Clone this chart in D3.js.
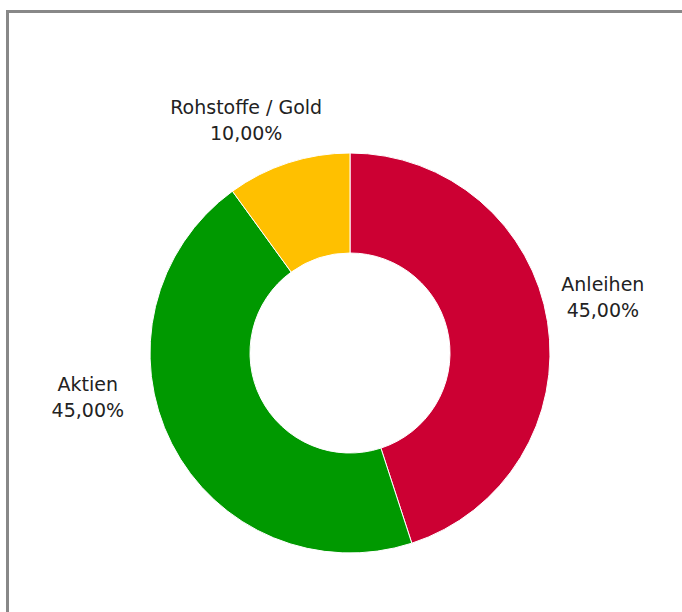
<html>
  <head>
    <script src="https://cdnjs.cloudflare.com/ajax/libs/d3/7.8.5/d3.min.js"></script>
    <style>
    body {
      margin: 0;
      background: white;
    }
    text {
      font-family: "DejaVu Sans", sans-serif;
      font-size: 19px;
      fill: #222;
    }
    </style>
  </head>
  <body>
    <svg width="682" height="612" id="donut"></svg>

    <script>
    var categories = ['Anleihen', 'Aktien', 'Rohstoffe / Gold'];
    var shares = [45, 45, 10];
    var colors = ['#CC0033', '#009900', '#FFC000'];

    var svg = d3.select('#donut');

    // grey frame, cut off at right and bottom edge
    svg.append('rect')
      .attr('x', 7.5)
      .attr('y', 11.5)
      .attr('width', 800)
      .attr('height', 800)
      .style('fill', 'none')
      .style('stroke', '#888')
      .style('stroke-width', 3);

    var cx = 350, cy = 353;
    var outer = 200, inner = 100;

    var pie = d3.pie().sort(null).value(function(d) { return d; });
    var arcs = pie(shares);
    var arc = d3.arc().innerRadius(inner).outerRadius(outer);
    var labelArc = d3.arc().innerRadius(255).outerRadius(255);

    var g = svg.append('g').attr('transform', 'translate(' + cx + ' ' + cy + ')');

    g.selectAll('path')
      .data(arcs)
      .enter()
      .append('path')
      .attr('d', arc)
      .style('fill', function(d, i) { return colors[i]; })
      .style('stroke', 'white')
      .style('stroke-width', 1);

    // the labels sit a bit off the slice middle, as in the original layout
    var nudge = [[1, -22], [-35, -78], [-25, 4]];

    var fmt = function(v) { return d3.format('.2f')(v).replace('.', ',') + '%'; };

    var labels = g.selectAll('text.label')
      .data(arcs)
      .enter()
      .append('text')
      .attr('class', 'label')
      .attr('text-anchor', 'middle')
      .attr('transform', function(d, i) {
        var c = labelArc.centroid(d);
        return 'translate(' + (c[0] + nudge[i][0]) + ' ' + (c[1] + nudge[i][1]) + ')';
      });

    labels.append('tspan')
      .attr('x', 0)
      .attr('y', 0)
      .text(function(d, i) { return categories[i]; });
    labels.append('tspan')
      .attr('x', 0)
      .attr('y', 26)
      .text(function(d) { return fmt(d.data); });
    </script>
  </body>
</html>
